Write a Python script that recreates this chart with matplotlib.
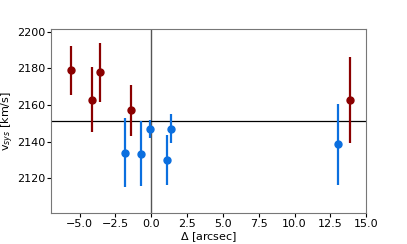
import matplotlib
matplotlib.use("Agg")
import matplotlib.pyplot as plt

# red group
red_x = [-5.6, -4.15, -3.6, -1.4, 13.85]
red_v = [2179, 2163, 2178, 2157, 2162.5]
red_lo = [13.5, 17.5, 16.5, 14, 23.5]
red_hi = [13.5, 18, 16, 14, 23.5]

# blue group
blue_x = [-1.8, -0.7, -0.12, 1.1, 1.4, 13.05]
blue_v = [2134, 2133.5, 2147, 2130, 2147, 2138.5]
blue_lo = [19, 17.5, 5, 13.5, 8, 22]
blue_hi = [19, 17.5, 5, 13.5, 8, 22]

v_mean = 2151

plt.rcParams["font.size"] = 8

fig = plt.figure(figsize=(4.07, 2.44), dpi=100)
ax = fig.add_axes([0.125, 0.127, 0.775, 0.754])

ax.axvline(0, color="#555555", lw=1.0, zorder=1)
ax.axhline(v_mean, color="black", lw=0.9, zorder=1)

ax.errorbar(red_x, red_v, yerr=[red_lo, red_hi], fmt="o", color="#8b0000",
            ms=5, elinewidth=1.6, capsize=0, zorder=3)
ax.errorbar(blue_x, blue_v, yerr=[blue_lo, blue_hi], fmt="o", color="#0b6fdf",
            ms=5, elinewidth=1.6, capsize=0, zorder=3)

ax.set_xlim(-7, 15)
ax.set_ylim(2101, 2201.5)
ax.set_yticks([2120, 2140, 2160, 2180, 2200])
ax.set_xticks([-5, -2.5, 0, 2.5, 5, 7.5, 10, 12.5, 15])
ax.tick_params(length=3, pad=1)

ax.set_xlabel(r"$\Delta$ [arcsec]", labelpad=1)
ax.set_ylabel(r"v$_{sys}$ [km/s]", labelpad=0.5)

for s in ax.spines.values():
    s.set_color("#777777")

plt.savefig("out.png", dpi=100)
